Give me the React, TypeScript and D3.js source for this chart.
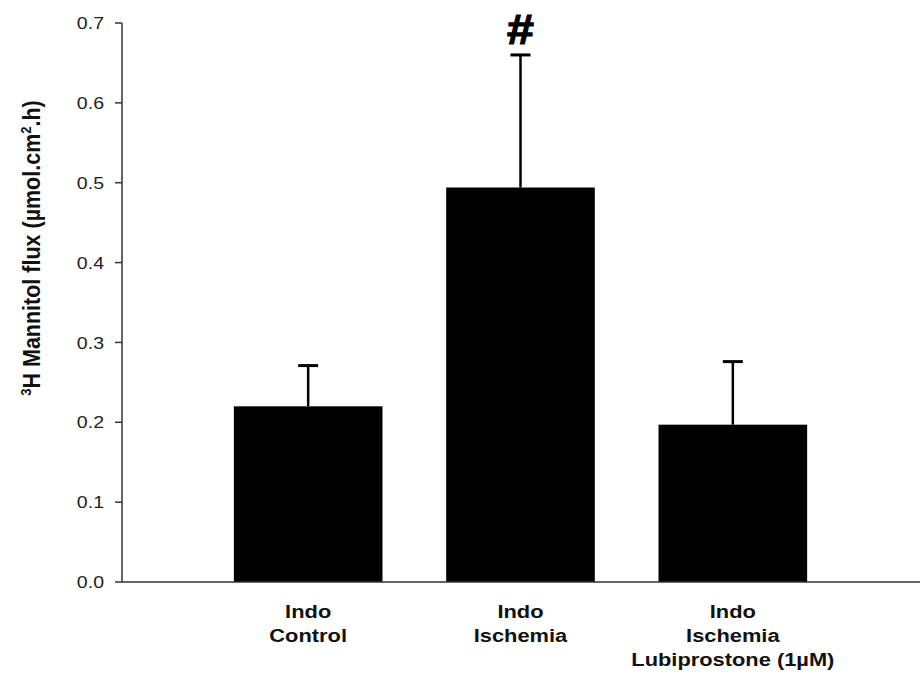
import * as React from 'react';
import * as d3 from 'd3';

const categories = ['Indo\nControl', 'Indo\nIschemia', 'Indo\nIschemia\nLubiprostone (1\u00b5M)'];
const means = [0.22, 0.494, 0.197];
const errors = [0.051, 0.166, 0.079];
const marks = ['', '#', ''];
const yTicks = [0, 0.1, 0.2, 0.3, 0.4, 0.5, 0.6, 0.7];

const W = 921, H = 675;
const axisX = 122, axisBottom = 582, axisTop = 23;
const font = 'Arial, "Liberation Sans", Helvetica, sans-serif';
// the source figure is a little wider than tall, text too
const sx = 1.15;

export default function App() {
  const y = d3.scaleLinear().domain([0, 0.7]).range([axisBottom, axisTop]);
  const x = d3.scaleBand<string>()
    .domain(categories)
    .range([202, 839])
    .paddingInner(0.3)
    .paddingOuter(0.15);
  const bw = x.bandwidth();

  return (
    <svg width={W} height={H} style={{ position: 'absolute', left: 0, top: 0, background: '#fff' }}>
      {/* bars */}
      {categories.map((c, i) => {
        const x0 = x(c)!;
        const cx = x0 + bw / 2;
        const top = y(means[i]);
        const et = y(means[i] + errors[i]);
        return (
          <g key={c}>
            <rect x={x0} y={top} width={bw} height={axisBottom - top} fill="#000" />
            <line x1={cx} x2={cx} y1={top} y2={et} stroke="#000" strokeWidth={2.5} />
            <line x1={cx - 10} x2={cx + 10} y1={et} y2={et} stroke="#000" strokeWidth={3} />
            {marks[i] && (
              <text transform={`translate(${cx}, ${et - 11}) scale(${sx},1)`} textAnchor="middle"
                fontFamily={font} fontWeight="bold" fontSize={42} stroke="#000" strokeWidth={1.2}>
                {marks[i]}
              </text>
            )}
          </g>
        );
      })}

      {/* y axis */}
      <line x1={axisX} x2={axisX} y1={axisTop} y2={axisBottom} stroke="#333" strokeWidth={1.5} />
      {yTicks.map(t => (
        <g key={t}>
          <line x1={axisX - 7} x2={axisX} y1={y(t)} y2={y(t)} stroke="#333" strokeWidth={1.5} />
          <text transform={`translate(${axisX - 18}, ${y(t)}) scale(${sx},1)`} dy="0.36em" textAnchor="end"
            fontFamily={font} fontSize={17} fill="#222">
            {d3.format('.1f')(t)}
          </text>
        </g>
      ))}

      {/* x axis */}
      <line x1={axisX} x2={920} y1={axisBottom} y2={axisBottom} stroke="#333" strokeWidth={1.5} />
      {categories.map(c => (
        <text key={c} transform={`translate(${x(c)! + bw / 2}, 618) scale(${sx},1)`} textAnchor="middle"
          fontFamily={font} fontWeight="bold" fontSize={19} fill="#111">
          {c.split('\n').map((l, j) => (
            <tspan key={j} x={0} dy={j === 0 ? 0 : 24}>{l}</tspan>
          ))}
        </text>
      ))}

      {/* y title */}
      <text transform={`translate(40, 248) scale(${sx},1) rotate(-90)`} textAnchor="middle"
        fontFamily={font} fontWeight="bold" fontSize={21.5} fill="#111">
        <tspan fontSize={13} dy={-8}>3</tspan>
        <tspan dy={8}>H Mannitol flux (µmol.cm</tspan>
        <tspan fontSize={13} dy={-8}>2</tspan>
        <tspan dy={8}>.h)</tspan>
      </text>
    </svg>
  );
}
